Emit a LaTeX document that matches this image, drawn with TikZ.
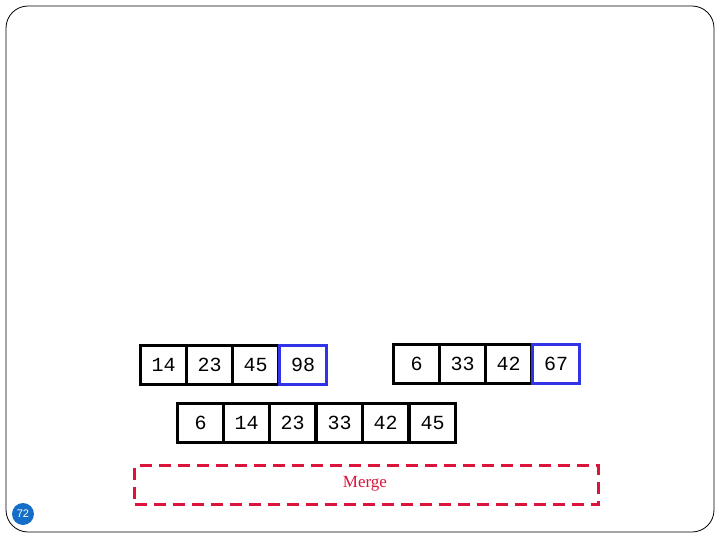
\documentclass[tikz,border=0pt]{standalone}
\usepackage{fontspec}
\setmainfont{Liberation Serif}
\newfontfamily\monof{Liberation Mono}
\newfontfamily\sansf{Liberation Sans}
\definecolor{cellblue}{RGB}{50,50,230}
\definecolor{mergered}{RGB}{220,20,60}
\definecolor{pageblue}{RGB}{20,110,200}
\tikzset{x=1pt,y=-1pt,
 cell/.style={draw=black,line width=3pt,minimum width=46pt,minimum height=39pt,inner sep=0pt,font=\monof\fontsize{20}{20}\selectfont,anchor=north west},
 bcell/.style={cell,draw=cellblue},
 mergebox/.style={draw=mergered,line width=3pt,dashed,dash pattern=on 12pt off 7pt},
}
\begin{document}
\begin{tikzpicture}
\useasboundingbox (0,0) rectangle (720,540);
\draw[rounded corners=22pt,line width=0.8pt] (6,6) rectangle (714,532);
% top left
\node[cell] (a1) at (139,344) {14};
\node[cell] (a2) at (185,344) {23};
\node[cell] (a3) at (231,344) {45};
\node[bcell,minimum width=47pt] (a4) at (278,344) {98};
% top right
\node[cell] (b1) at (392,343) {6};
\node[cell] (b2) at (438,343) {33};
\node[cell] (b3) at (484,343) {42};
\node[bcell,minimum width=47pt] (b4) at (531,343) {67};
% bottom
\node[cell] (c1) at (176,402) {6};
\node[cell] (c2) at (222,402) {14};
\node[cell] (c3) at (268,402) {23};
\node[cell] (c4) at (315,402) {33};
\node[cell] (c5) at (361,402) {42};
\node[cell] (c6) at (408,402) {45};
% merge
\node[mergebox,minimum width=464pt,minimum height=39pt,anchor=north west] (m) at (133,464) {};
\node[text=mergered,font=\fontsize{17}{17}\selectfont] (mt) at (365,484) {Merge};
\node[circle,fill=pageblue,text=white,inner sep=0pt,minimum size=22pt,font=\sansf\fontsize{11}{11}\selectfont] (pg) at (23,514) {72};
\end{tikzpicture}
\end{document}
